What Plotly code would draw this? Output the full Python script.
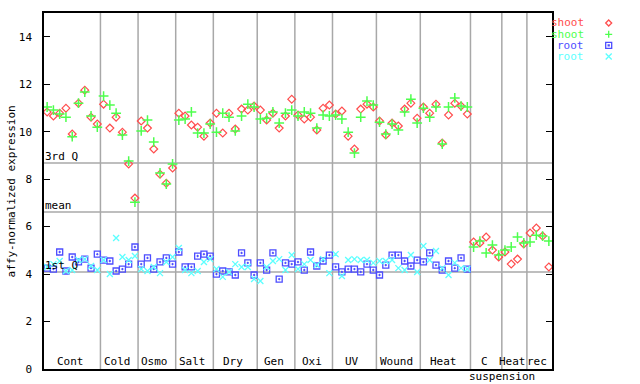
import plotly.graph_objects as go

# ---------------- data ----------------
groups = ["Cont", "Cold", "Osmo", "Salt", "Dry", "Gen", "Oxi", "UV", "Wound", "Heat", "C", "Heat", "rec"]
group_sizes = [9, 6, 6, 6, 7, 6, 6, 7, 7, 8, 5, 4, 4]

shoot_rep1 = [10.83, 10.66, 10.78, 10.99, 9.90, 11.20, 11.75, 10.61, 10.32,
              11.16, 10.15, 10.61, 9.98, 8.64, 7.20,
              10.45, 10.15, 9.27, 8.21, 7.83, 8.47,
              10.78, 10.66, 10.28, 10.19, 9.81, 10.36,
              10.78, 9.94, 10.78, 10.11, 10.95, 10.91, 11.08,
              10.91, 10.49, 10.78, 10.15, 10.66, 11.37,
              10.70, 10.53, 10.61, 10.07, 10.99, 11.12,
              10.74, 10.87, 9.81, 9.27, 10.95, 11.16, 11.04,
              10.45, 9.86, 10.36, 10.24, 10.95, 11.20, 10.57,
              11.04, 10.78, 11.16, 9.52, 10.70, 11.20, 11.08, 10.74,
              5.35, 5.31, 5.56, 5.01, 4.72,
              4.93, 4.42, 4.63, 5.27,
              5.73, 5.94, 5.60, 4.30]

shoot_rep2 = [11.04, 10.91, 10.74, 10.61, 9.79, 11.20, 11.67, 10.66, 10.19,
              11.50, 11.12, 10.78, 9.86, 8.76, 7.03,
              10.03, 10.49, 9.56, 8.26, 7.79, 8.64,
              10.49, 10.53, 10.83, 9.94, 9.94, 10.32,
              9.98, 10.78, 10.61, 10.03, 10.66, 11.16, 11.04,
              10.53, 10.57, 10.83, 10.36, 10.78, 10.91,
              10.66, 10.83, 10.78, 10.15, 10.70, 10.66,
              10.70, 10.53, 9.98, 9.10, 10.61, 11.29, 11.12,
              10.40, 9.90, 10.32, 10.07, 10.83, 11.37, 10.36,
              10.99, 10.61, 11.04, 9.48, 11.04, 11.42, 11.08, 11.04,
              5.14, 5.39, 4.89, 5.22, 4.80,
              5.01, 5.14, 5.56, 5.31,
              5.35, 5.64, 5.60, 5.39]

root_rep1 = [4.25, 4.21, 4.93, 4.13, 4.72, 4.51, 4.63, 4.25, 4.84,
             4.59, 4.55, 4.13, 4.21, 4.42, 5.14,
             4.42, 4.68, 4.21, 4.51, 4.68, 4.42,
             4.93, 4.30, 4.30, 4.76, 4.84, 4.76,
             4.00, 4.13, 4.09, 3.96, 4.89, 4.47, 3.96,
             4.47, 4.17, 4.89, 3.79, 4.47, 4.42,
             4.51, 4.17, 4.93, 4.34, 4.55, 4.80,
             4.30, 4.09, 4.21, 4.21, 4.09, 4.42, 4.17,
             3.96, 4.38, 4.80, 4.80, 4.55, 4.34, 4.59,
             4.51, 4.89, 4.38, 4.17, 4.55, 4.25, 4.68, 4.21]

root_rep2 = [4.30, 4.42, 4.55, 4.13, 4.17, 4.59, 4.63, 4.34, 4.17,
             4.59, 4.00, 5.52, 4.72, 4.59, 4.76,
             4.21, 4.13, 4.30, 4.04, 4.51, 4.72,
             5.10, 4.17, 4.04, 4.13, 4.51, 4.63,
             4.21, 3.88, 4.09, 4.42, 4.30, 4.30, 3.79,
             3.71, 4.30, 4.55, 4.63, 4.17, 4.80,
             4.21, 4.42, 4.59, 4.38, 4.63, 4.04,
             4.84, 3.92, 4.59, 4.63, 4.59, 4.59, 4.47,
             4.55, 4.55, 4.59, 4.25, 4.17, 4.80, 4.09,
             5.18, 4.59, 4.97, 4.25, 3.96, 4.47, 4.25, 4.21]

quartile_3rd = 8.68
mean_value = 6.61
quartile_1st = 4.09

series_names = ["shoot", "shoot", "root", "root"]
# ---------------------------------------

RED, GREEN, BLUE, CYAN = "#ff4d4d", "#4dff4d", "#4d4dff", "#5cffff"
FONT = "DejaVu Sans Mono"
GRID = "#a8a8a8"

fig = go.Figure()

xs_shoot = list(range(len(shoot_rep1)))
xs_root = list(range(len(root_rep1)))

fig.add_trace(go.Scatter(x=xs_shoot, y=shoot_rep1, mode="markers", name="shoot",
                         marker=dict(symbol="diamond-open", size=6, color=RED, line=dict(width=1.2))))
fig.add_trace(go.Scatter(x=xs_shoot, y=shoot_rep2, mode="markers", name="shoot",
                         marker=dict(symbol="cross-thin-open", size=7, color=GREEN, line=dict(width=1.5))))
fig.add_trace(go.Scatter(x=xs_root, y=root_rep1, mode="markers", name="root",
                         marker=dict(symbol="square-open-dot", size=6, color=BLUE, line=dict(width=1.3))))
fig.add_trace(go.Scatter(x=xs_root, y=root_rep2, mode="markers", name="root",
                         marker=dict(symbol="x-thin-open", size=6, color=CYAN, line=dict(width=1.3))))

shapes = []
annotations = []

# group separators and labels
start = 0
n_total = sum(group_sizes)
for name, size in zip(groups, group_sizes):
    center = start + (size - 1) / 2
    annotations.append(dict(x=center, y=0, xref="x", yref="y", text=name, showarrow=False,
                            xanchor="center", yanchor="bottom", xshift=-2, yshift=-1,
                            font=dict(family=FONT, size=11, color="black")))
    start += size
    if start < n_total:
        shapes.append(dict(type="line", xref="x", yref="paper", x0=start - 0.5, x1=start - 0.5,
                           y0=0, y1=1, line=dict(color=GRID, width=1.5), layer="below"))

# "suspension" under C group
c_start = sum(group_sizes[:10])
annotations.append(dict(x=c_start + group_sizes[10] - 0.5, y=-0.022, xref="x", yref="paper",
                        text="suspension", showarrow=False, xanchor="center", yanchor="middle",
                        borderpad=0, font=dict(family=FONT, size=11, color="black")))

# quartile / mean lines
for val, lab in [(quartile_3rd, "3rd Q"), (mean_value, "mean"), (quartile_1st, "1st Q")]:
    shapes.append(dict(type="line", xref="paper", yref="y", x0=0, x1=1, y0=val, y1=val,
                       line=dict(color=GRID, width=1.5), layer="below"))
    annotations.append(dict(x=0, y=val, xref="paper", yref="y", text=lab, showarrow=False,
                            xanchor="left", yanchor="bottom", xshift=-1, yshift=-2,
                            font=dict(family=FONT, size=11, color="black")))

# y axis title
annotations.append(dict(x=-0.064, y=0.5, xref="paper", yref="paper", text="affy-normalized expression",
                        textangle=-90, showarrow=False, xanchor="center", yanchor="middle",
                        borderpad=0, font=dict(family=FONT, size=11, color="black")))

# custom legend (text then marker)
leg_y = [0.972, 0.940, 0.909, 0.878]
leg_cols = [RED, GREEN, BLUE, CYAN]
for yy, col, nm in zip(leg_y, leg_cols, series_names):
    annotations.append(dict(x=1.0645, y=yy, xref="paper", yref="paper", text=nm, showarrow=False,
                            xanchor="right", yanchor="middle", borderpad=0,
                            font=dict(family=FONT, size=11, color=col)))
mx = 1.1116
paths = [
    ("M 0,3 L 3,0 L 0,-3 L -3,0 Z", RED),
    ("M -3.5,0 L 3.5,0 M 0,-3.5 L 0,3.5", GREEN),
    ("M -3,-3 L 3,-3 L 3,3 L -3,3 Z M -0.5,-0.5 L 0.5,-0.5 L 0.5,0.5 L -0.5,0.5 Z", BLUE),
    ("M -3,-3 L 3,3 M -3,3 L 3,-3", CYAN),
]
for yy, (p, col) in zip(leg_y, paths):
    shapes.append(dict(type="path", xref="paper", yref="paper", xsizemode="pixel", ysizemode="pixel",
                       xanchor=mx, yanchor=yy, path=p, line=dict(color=col, width=1.3)))

fig.update_layout(
    width=640, height=384,
    margin=dict(l=44, r=88, t=13, b=15, pad=0, autoexpand=False),
    paper_bgcolor="white", plot_bgcolor="white",
    showlegend=False,
    shapes=shapes, annotations=annotations,
    font=dict(family=FONT, size=11, color="black"),
    xaxis=dict(range=[-0.5, n_total - 0.5], showticklabels=False, ticks="", showgrid=False,
               zeroline=False, showline=True, linecolor="black", linewidth=1.5, mirror=True,
               automargin=False),
    yaxis=dict(range=[0, 15], tickvals=[0, 2, 4, 6, 8, 10, 12, 14], ticks="inside", ticklen=6,
               tickcolor="black", tickwidth=1, showgrid=False, zeroline=False, showline=True,
               linecolor="black", linewidth=1.5, mirror="ticks", ticklabelstandoff=8,
               automargin=False,
               tickfont=dict(family=FONT, size=11, color="black")),
)

# remove the default page margin so the figure sits at the window's top-left corner
fig.write_html("out.html", config={"displayModeBar": False},
               post_script="document.body.style.margin='0';")
